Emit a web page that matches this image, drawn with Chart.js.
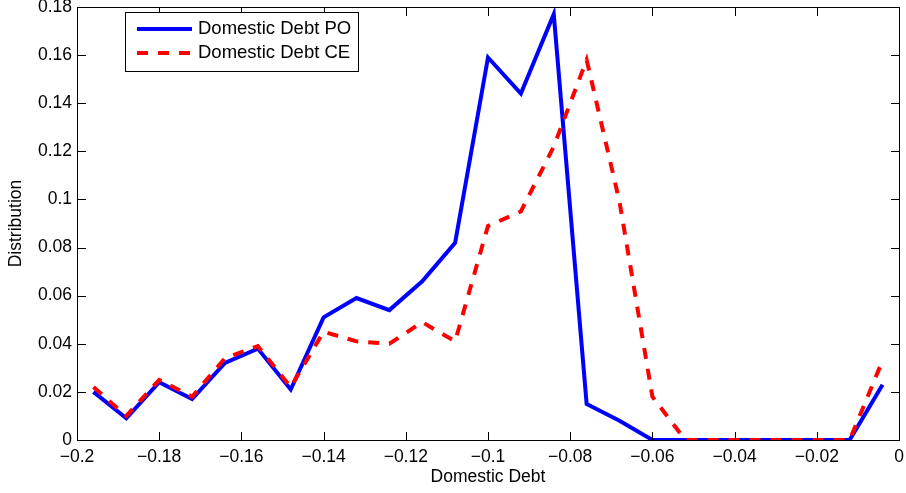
<!DOCTYPE html>
<html>
<head>
<meta charset="utf-8">
<script src="https://cdn.jsdelivr.net/npm/chart.js@4/dist/chart.umd.min.js"></script>
<style>
  html, body { margin: 0; padding: 0; background: #fff; overflow: hidden; }
  canvas { display: block; }
</style>
</head>
<body>
<canvas id="c" width="906" height="493"></canvas>
<script>
// Bin centres of the domestic debt distribution
const debtBins = [-0.196, -0.188, -0.180, -0.172, -0.164, -0.156, -0.148, -0.140,
                  -0.132, -0.124, -0.116, -0.108, -0.100, -0.092, -0.084, -0.076,
                  -0.068, -0.060, -0.052, -0.044, -0.036, -0.028, -0.020, -0.012, -0.004];

// Distribution under the planner's optimum (PO)
const debtPO = [0.020, 0.009, 0.024, 0.017, 0.032, 0.038, 0.021, 0.051,
                0.059, 0.054, 0.066, 0.082, 0.159, 0.144, 0.177, 0.015,
                0.008, 0, 0, 0, 0, 0, 0, 0, 0.023];

// Distribution under the competitive equilibrium (CE)
const debtCE = [0.022, 0.010, 0.025, 0.018, 0.034, 0.039, 0.022, 0.045,
                0.041, 0.040, 0.049, 0.041, 0.089, 0.095, 0.122, 0.158,
                0.099, 0.018, 0, 0, 0, 0, 0, 0, 0.033];

const seriesLabels = ['Domestic Debt PO', 'Domestic Debt CE'];
const xTickRange = { min: -0.2, max: 0, step: 0.02 };
const yTickRange = { min: 0, max: 0.18, step: 0.02 };

const FONT = '"Liberation Sans", Arial, Helvetica, sans-serif';
const BLUE = '#0000ff';
const RED = '#ff0000';
const DASH = [11, 10];
const AXIS_BORDER = { display: true, color: '#000', width: 1 };

function fmt(v) {
  const r = parseFloat(v.toFixed(3));
  if (r === 0) return '0';
  return r < 0 ? '\u2212' + String(Math.abs(r)) : String(r);
}

function toPoints(ys) {
  return debtBins.map((x, i) => ({ x: x, y: ys[i] }));
}

function noOverflow(s) {
  s.paddingLeft = 0;
  s.paddingRight = 0;
  s.paddingTop = 0;
  s.paddingBottom = 0;
}

// Axes box with inward tick marks on all four sides, then the boxed legend
const axesBoxPlugin = {
  id: 'axesBox',
  afterDraw(chart) {
    const { ctx, chartArea: a, scales } = chart;
    const L = Math.round(a.left), R = Math.round(a.right);
    const T = Math.round(a.top), B = Math.round(a.bottom);
    const len = 8;
    ctx.save();
    ctx.fillStyle = '#000';
    ctx.fillRect(L, T, R - L + 1, 1);
    ctx.fillRect(L, B, R - L + 1, 1);
    ctx.fillRect(L, T, 1, B - T + 1);
    ctx.fillRect(R, T, 1, B - T + 1);
    scales.x.ticks.forEach(t => {
      const px = Math.round(scales.x.getPixelForValue(t.value));
      ctx.fillRect(px, B - len, 1, len);
      ctx.fillRect(px, T + 1, 1, len);
    });
    scales.y.ticks.forEach(t => {
      const py = Math.round(scales.y.getPixelForValue(t.value));
      ctx.fillRect(L + 1, py, len, 1);
      ctx.fillRect(R - len, py, len, 1);
    });

    // legend
    const box = { x: 125.5, y: 12.5, w: 233, h: 59 };
    const rows = [
      { label: seriesLabels[0], color: BLUE, dash: [], y: 29 },
      { label: seriesLabels[1], color: RED, dash: DASH, y: 53 }
    ];
    ctx.fillStyle = '#fff';
    ctx.fillRect(box.x, box.y, box.w, box.h);
    ctx.setLineDash([]);
    ctx.strokeStyle = '#000';
    ctx.lineWidth = 1;
    ctx.strokeRect(box.x, box.y, box.w, box.h);
    rows.forEach(r => {
      ctx.beginPath();
      ctx.setLineDash(r.dash);
      ctx.lineCap = 'butt';
      ctx.strokeStyle = r.color;
      ctx.lineWidth = 4;
      ctx.moveTo(137, r.y);
      ctx.lineTo(192, r.y);
      ctx.stroke();
      ctx.setLineDash([]);
      ctx.fillStyle = '#000';
      ctx.font = '18.5px ' + FONT;
      ctx.textBaseline = 'middle';
      ctx.textAlign = 'left';
      ctx.fillText(r.label, 198, r.y);
    });
    ctx.restore();
  }
};

new Chart(document.getElementById('c'), {
  type: 'line',
  data: {
    datasets: [
      {
        label: seriesLabels[0],
        data: toPoints(debtPO),
        borderColor: BLUE,
        borderWidth: 4,
        pointRadius: 0,
        fill: false,
        tension: 0,
        order: 1
      },
      {
        label: seriesLabels[1],
        data: toPoints(debtCE),
        borderColor: RED,
        borderWidth: 4,
        borderDash: DASH,
        borderCapStyle: 'butt',
        pointRadius: 0,
        fill: false,
        tension: 0,
        order: 0
      }
    ]
  },
  options: {
    responsive: false,
    devicePixelRatio: 1,
    animation: false,
    layout: { padding: { left: 0, right: 7, top: 7, bottom: 0 } },
    plugins: {
      legend: { display: false },
      tooltip: { enabled: false }
    },
    scales: {
      x: {
        type: 'linear',
        min: xTickRange.min,
        max: xTickRange.max,
        afterFit(s) { s.height = 53; noOverflow(s); },
        grid: { display: false, drawTicks: false },
        border: AXIS_BORDER,
        ticks: {
          stepSize: xTickRange.step,
          autoSkip: false,
          maxRotation: 0,
          padding: 7,
          color: '#000',
          font: { family: FONT, size: 17.5 },
          callback: v => fmt(v)
        },
        title: {
          display: true,
          text: 'Domestic Debt',
          color: '#000',
          font: { family: FONT, size: 17.5 },
          padding: { top: 0, bottom: 5 }
        }
      },
      xTop: {
        type: 'linear',
        position: 'top',
        display: true,
        min: xTickRange.min,
        max: xTickRange.max,
        afterFit(s) { s.height = 0; noOverflow(s); },
        grid: { display: false, drawTicks: false },
        border: AXIS_BORDER,
        ticks: { display: false }
      },
      y: {
        type: 'linear',
        min: yTickRange.min,
        max: yTickRange.max,
        afterFit(s) { s.width = 77; noOverflow(s); },
        grid: { display: false, drawTicks: false },
        border: AXIS_BORDER,
        ticks: {
          stepSize: yTickRange.step,
          autoSkip: false,
          padding: 5,
          color: '#000',
          font: { family: FONT, size: 17.5 },
          callback: v => fmt(v)
        },
        title: {
          display: true,
          text: 'Distribution',
          color: '#000',
          font: { family: FONT, size: 17.5 },
          padding: { top: 6, bottom: 0 }
        }
      },
      yRight: {
        type: 'linear',
        position: 'right',
        display: true,
        min: yTickRange.min,
        max: yTickRange.max,
        afterFit(s) { s.width = 0; noOverflow(s); },
        grid: { display: false, drawTicks: false },
        border: AXIS_BORDER,
        ticks: { display: false }
      }
    }
  },
  plugins: [axesBoxPlugin]
});
</script>
</body>
</html>
